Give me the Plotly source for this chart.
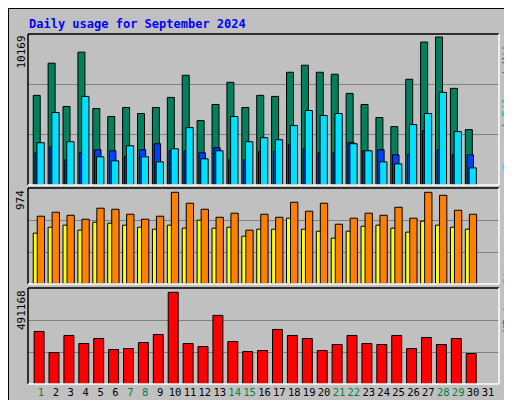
import plotly.graph_objects as go
from plotly.subplots import make_subplots

days = list(range(1, 31))
all_days = list(range(1, 32))
weekend = [1, 7, 8, 14, 15, 21, 22, 28, 29]

hits = [6158, 8371, 5396, 9131, 5258, 4704, 5327, 4912, 5327, 6019, 7540, 4427, 5534, 7056, 5327,
        6158, 6088, 7748, 8232, 7748, 7610, 6295, 5534, 4635, 4012, 7264, 9823, 10169, 6641, 3805]
files = [2905, 4981, 2975, 6088, 1937, 1660, 2698, 1937, 1591, 2490, 3943, 1799, 2352, 4704, 2975,
         3251, 3113, 4082, 5119, 4773, 4912, 2836, 2352, 1591, 1453, 4151, 4912, 6365, 3667, 1176]
pages = [2214, 2629, 1730, 2214, 2421, 2352, 1937, 2421, 2836, 2352, 2352, 2214, 2560, 1730, 1730,
         2283, 2283, 2767, 2490, 2214, 2214, 2905, 2352, 2421, 2075, 2075, 3736, 2421, 2075, 2075]
sites = [540, 603, 625, 572, 656, 646, 625, 603, 582, 625, 593, 678, 593, 603, 508,
         582, 582, 699, 582, 561, 487, 561, 614, 625, 593, 551, 667, 625, 603, 582]
visits = [720, 762, 730, 688, 805, 794, 741, 688, 720, 974, 858, 794, 709, 752, 572,
          741, 709, 868, 773, 858, 635, 699, 752, 730, 815, 699, 974, 942, 783, 741]
kbytes = [281438, 168504, 259927, 216905, 243794, 184638, 190016, 222282, 265305, 491168,
          216905, 200771, 367483, 227660, 173882, 179260, 292194, 259927, 243794, 179260,
          211527, 259927, 216905, 211527, 259927, 190016, 249172, 211527, 243794, 163127]

BG = '#C0C0C0'
outline = dict(color='black', width=1)

fig = make_subplots(rows=3, cols=1, shared_xaxes=True)

fig.add_trace(go.Bar(x=days, y=hits, marker=dict(color='#00805C', line=outline),
                     width=0.47, offset=-0.52), row=1, col=1)
fig.add_trace(go.Bar(x=days, y=pages, marker=dict(color='#0040FF', line=outline),
                     width=0.43, offset=-0.4), row=1, col=1)
fig.add_trace(go.Bar(x=days, y=files, marker=dict(color='#00E0FF', line=outline),
                     width=0.49, offset=-0.27), row=1, col=1)

fig.add_trace(go.Bar(x=days, y=sites, marker=dict(color='#FFFF00', line=outline),
                     width=0.35, offset=-0.52), row=2, col=1)
fig.add_trace(go.Bar(x=days, y=visits, marker=dict(color='#FF8000', line=outline),
                     width=0.49, offset=-0.25), row=2, col=1)

fig.add_trace(go.Bar(x=days, y=kbytes, marker=dict(color='#FF0000', line=outline),
                     width=0.67, offset=-0.46), row=3, col=1)

r1 = max(hits) * 150 / 147
r2 = max(visits) * 96 / 91.7
r3 = max(kbytes) * 95.7 / 91.4

ticktext = ['<span style="color:#008040">%d</span>' % d if d in weekend else str(d) for d in all_days]

xdom = [20 / 512, 491 / 512]
doms = [[1 - 177 / 400, 1 - 26 / 400], [1 - 276 / 400, 1 - 180 / 400], [1 - 376 / 400, 1 - 280 / 400]]
ranges = [r1, r2, r3]

layout = dict(
    width=512, height=400, margin=dict(l=0, r=0, t=0, b=0, autoexpand=False),
    paper_bgcolor=BG, plot_bgcolor=BG, barmode='overlay', showlegend=False,
    font=dict(family='DejaVu Sans Mono', size=11, color='black'),
)
for i in range(3):
    n = '' if i == 0 else str(i + 1)
    layout['xaxis' + n] = dict(domain=xdom, range=[0.13, 31.74], showgrid=False, zeroline=False,
                               tickvals=all_days, ticktext=ticktext, ticks='', tickangle=0,
                               automargin=False, showticklabels=(i == 2),
                               tickfont=dict(family='DejaVu Sans Mono', size=10.5))
    layout['yaxis' + n] = dict(domain=doms[i], range=[0, ranges[i]], tickvals=[ranges[i] / 3, 2 * ranges[i] / 3],
                               showticklabels=False, gridcolor='#808080', gridwidth=1, zeroline=False,
                               automargin=False)
fig.update_layout(**layout)

shapes = [
    dict(type='rect', xref='paper', yref='paper', x0=0, x1=1, y0=0, y1=1,
         line=dict(color='black', width=2)),
    dict(type='rect', xref='paper', yref='paper', x0=505 / 512, x1=510 / 512, y0=2 / 400, y1=394 / 400,
         fillcolor='#808080', line=dict(width=0)),
    dict(type='rect', xref='paper', yref='paper', x0=6 / 512, x1=510 / 512, y0=2 / 400, y1=6 / 400,
         fillcolor='#808080', line=dict(width=0)),
]
for d in doms:
    shapes.append(dict(type='line', xref='paper', yref='paper', x0=xdom[0], x1=xdom[1], y0=d[1], y1=d[1],
                       line=dict(color='black', width=1.5)))
    shapes.append(dict(type='line', xref='paper', yref='paper', x0=xdom[0], x1=xdom[0], y0=d[0], y1=d[1],
                       line=dict(color='black', width=1.5)))
    shapes.append(dict(type='line', xref='paper', yref='paper', x0=xdom[0], x1=xdom[1], y0=d[0], y1=d[0],
                       line=dict(color='white', width=1.5)))
    shapes.append(dict(type='line', xref='paper', yref='paper', x0=xdom[1], x1=xdom[1], y0=d[0], y1=d[1],
                       line=dict(color='white', width=1.5)))
fig.update_layout(shapes=shapes)

max_labels = [str(max(hits)), str(max(visits)), str(max(kbytes))]
right_labels = [
    '<span style="color:#00E0FF">Pages</span><span style="color:#008040"> / </span>'
    '<span style="color:#00A0C0">Files</span><span style="color:#008040"> / Hits</span>',
    '<span style="color:#FF8000">Sites</span><span style="color:#FFFF00"> / Visits</span>',
    '<span style="color:#FF0000">KBytes</span>',
]
right_y = [doms[0][1] - 0.005, doms[1][1] - 0.005, doms[2][1] - 0.005]

ann = [dict(text='Daily usage for September 2024', x=19 / 512, y=1 - 16 / 400, xref='paper', yref='paper',
            xanchor='left', yanchor='middle', showarrow=False,
            font=dict(family='DejaVu Sans Mono', size=12, color='#0000FF', weight='bold'))]
for i in range(3):
    ann.append(dict(text=max_labels[i], x=13 / 512, y=doms[i][1], xref='paper', yref='paper',
                    xanchor='center', yanchor='top', textangle=-90, showarrow=False,
                    font=dict(family='DejaVu Sans Mono', size=11, color='black')))
    ann.append(dict(text=right_labels[i], x=499 / 512, y=right_y[i], xref='paper', yref='paper',
                    xanchor='center', yanchor='top', textangle=-90, showarrow=False,
                    font=dict(family='DejaVu Sans Mono', size=11)))
fig.update_layout(annotations=ann)

fig.write_html('out.html')
